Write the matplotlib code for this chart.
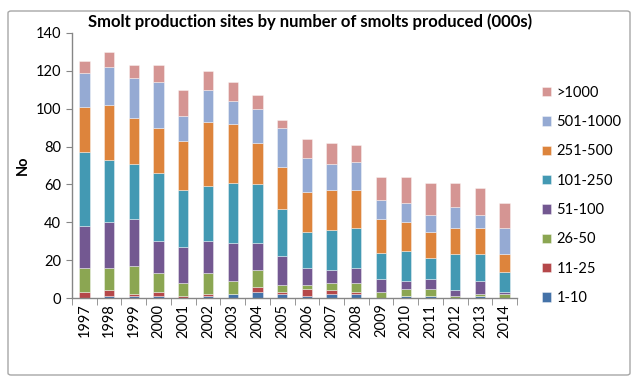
import matplotlib
matplotlib.use("Agg")
import matplotlib.pyplot as plt
from matplotlib.patches import FancyBboxPatch
import numpy as np

years = ["1997", "1998", "1999", "2000", "2001", "2002", "2003", "2004", "2005",
         "2006", "2007", "2008", "2009", "2010", "2011", "2012", "2013", "2014"]

s_1_10 = [0, 1, 1, 1, 0, 1, 2, 3, 2, 1, 2, 2, 0, 1, 1, 0, 1, 0]
s_11_25 = [3, 3, 1, 2, 1, 1, 0, 3, 1, 4, 2, 1, 0, 0, 0, 0, 0, 0]
s_26_50 = [13, 12, 15, 10, 7, 11, 7, 9, 4, 2, 4, 5, 3, 4, 4, 1, 1, 2]
s_51_100 = [22, 24, 25, 17, 19, 17, 20, 14, 15, 9, 7, 8, 7, 4, 5, 3, 7, 1]
s_101_250 = [39, 33, 29, 36, 30, 29, 32, 31, 25, 19, 21, 21, 14, 16, 11, 19, 14, 11]
s_251_500 = [24, 29, 24, 24, 26, 34, 31, 22, 22, 21, 21, 20, 18, 15, 14, 14, 14, 9]
s_501_1000 = [18, 20, 21, 24, 13, 17, 12, 18, 21, 18, 14, 15, 10, 10, 9, 11, 7, 14]
s_gt_1000 = [6, 8, 7, 9, 14, 10, 10, 7, 4, 10, 11, 9, 12, 14, 17, 13, 14, 13]

series_names = ["1-10", "11-25", "26-50", "51-100", "101-250", "251-500", "501-1000", ">1000"]
series = [s_1_10, s_11_25, s_26_50, s_51_100, s_101_250, s_251_500, s_501_1000, s_gt_1000]
colors = ["#4472A8", "#B5484A", "#8BA652", "#735891", "#4399B3", "#DD843C", "#95AAD3", "#D59593"]

fig = plt.figure(figsize=(6.43, 3.86), dpi=100)
plt.rcParams['font.family'] = ['Lato', 'DejaVu Sans']

# outer chart border
border = FancyBboxPatch((8 / 643, 11 / 386), 622 / 643, 364 / 386,
                        boxstyle="round,pad=0,rounding_size=0.005",
                        transform=fig.transFigure, fill=False,
                        edgecolor="#A6A6A6", linewidth=1.0)
fig.patches.append(border)

ax = fig.add_axes([72 / 643, 1 - 298 / 386, (517 - 72) / 643, (298 - 33) / 386])

x = np.arange(len(years))
bottom = np.zeros(len(years))
handles = []
for name, vals, c in zip(series_names, series, colors):
    b = ax.bar(x, vals, width=0.42, bottom=bottom, color=c, label=name,
               edgecolor=(1, 1, 1, 0.45), linewidth=0.6)
    handles.append(b)
    bottom += np.array(vals)

ax.set_xlim(-0.5, len(years) - 0.5)
ax.set_ylim(0, 140)
ax.set_yticks(np.arange(0, 141, 20))
ax.set_xticks(x)
ax.set_xticklabels(years, rotation=90, fontsize=10.5)
ax.tick_params(axis='y', labelsize=10.5, length=4, color="#868686", pad=4)
ax.tick_params(axis='x', length=0, pad=4)
ax.set_xticks(np.arange(-0.5, len(years), 1), minor=True)
ax.tick_params(axis='x', which='minor', length=5, color="#868686")

for sp in ["top", "right"]:
    ax.spines[sp].set_visible(False)
for sp in ["left", "bottom"]:
    ax.spines[sp].set_color("#868686")
    ax.spines[sp].set_linewidth(1.0)

ax.set_ylabel("No", fontsize=10.5, fontweight="bold", labelpad=4)
fig.text(310 / 643, 1 - 22 / 386, "Smolt production sites by number of smolts produced (000s)",
         ha="center", va="center", fontsize=12, fontweight="bold")

leg = fig.legend(handles[::-1], series_names[::-1], loc="upper left",
                 bbox_to_anchor=(536 / 643, 1 - 80 / 386), frameon=False,
                 fontsize=10.5, handlelength=0.6, handleheight=0.6,
                 handletextpad=0.4, labelspacing=1.05, borderaxespad=0)

fig.savefig("out.png", dpi=100)
